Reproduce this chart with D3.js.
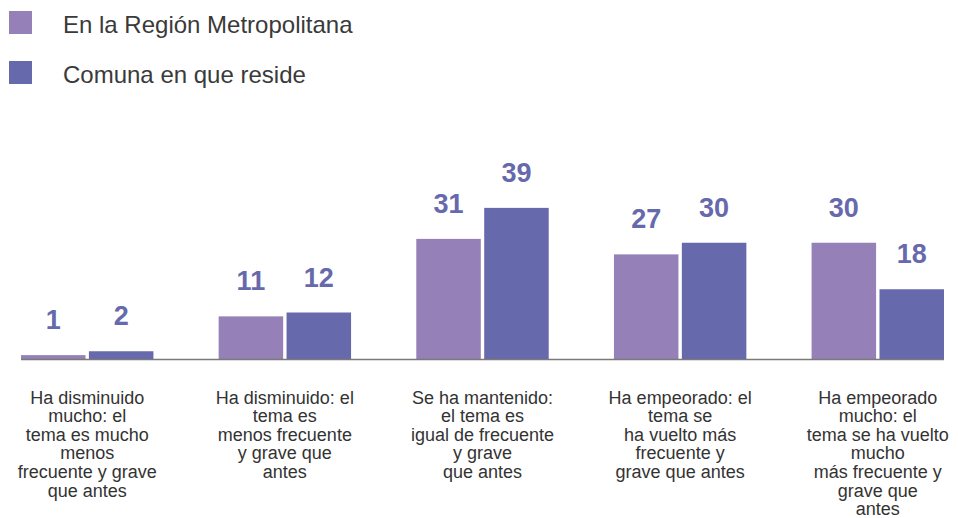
<!DOCTYPE html>
<html>
<head>
<meta charset="utf-8">
<script src="https://cdn.jsdelivr.net/npm/d3@7"></script>
<style>
  body { margin: 0; background: #fff; }
  text { font-family: "Liberation Sans", Arial, Helvetica, sans-serif; }
</style>
</head>
<body>
<div class="chart"></div>
<script>
var categories = ['c1', 'c2', 'c3', 'c4', 'c5'];
var categoryLabels = [
  ['Ha disminuido', 'mucho: el', 'tema es mucho', 'menos', 'frecuente y grave', 'que antes'],
  ['Ha disminuido: el', 'tema es', 'menos frecuente', 'y grave que', 'antes'],
  ['Se ha mantenido:', 'el tema es', 'igual de frecuente', 'y grave', 'que antes'],
  ['Ha empeorado: el', 'tema se', 'ha vuelto más', 'frecuente y', 'grave que antes'],
  ['Ha empeorado', 'mucho: el', 'tema se ha vuelto', 'mucho', 'más frecuente y', 'grave que', 'antes']
];
var seriesNames = ['En la Región Metropolitana', 'Comuna en que reside'];
var regionValues = [1, 11, 31, 27, 30];
var comunaValues = [2, 12, 39, 30, 18];
var colors = ['#9581b8', '#6669ac'];

var width = 958, height = 518;
var baseline = 359;

var svg = d3.select('.chart')
  .append('svg')
  .attr('width', width)
  .attr('height', height);

var x0 = d3.scaleBand()
  .domain(categories)
  .range([21, 944])
  .paddingInner(0.33);

var x1 = d3.scaleBand()
  .domain([0, 1])
  .range([0, x0.bandwidth()])
  .paddingInner(0.05);

var y = d3.scaleLinear()
  .domain([0, 40])
  .range([baseline, baseline - 155]);

// legend
var legend = svg.append('g');
seriesNames.forEach(function (name, i) {
  var g = legend.append('g').attr('transform', 'translate(9,' + (11 + i * 50) + ')');
  g.append('rect').attr('width', 23).attr('height', 23).attr('fill', colors[i]);
  g.append('text')
    .attr('x', 54).attr('y', 22)
    .attr('font-size', 24)
    .attr('fill', '#3a3a3a')
    .text(name);
});

var rows = categories.map(function (c, i) {
  return { cat: c, values: [regionValues[i], comunaValues[i]], label: categoryLabels[i] };
});

var groups = svg.selectAll('.group')
  .data(rows)
  .enter().append('g')
  .attr('class', 'group')
  .attr('transform', d => 'translate(' + x0(d.cat) + ',0)');

groups.selectAll('rect')
  .data(d => d.values.map((v, i) => ({ i: i, v: v })))
  .enter().append('rect')
  .attr('x', d => x1(d.i))
  .attr('width', x1.bandwidth())
  .attr('y', d => y(d.v))
  .attr('height', d => baseline - y(d.v))
  .attr('fill', d => colors[d.i]);

groups.selectAll('.val')
  .data(d => d.values.map((v, i) => ({ i: i, v: v })))
  .enter().append('text')
  .attr('class', 'val')
  .attr('x', d => x1(d.i) + x1.bandwidth() / 2)
  .attr('y', d => y(d.v) - 26)
  .attr('text-anchor', 'middle')
  .attr('font-size', 27)
  .attr('font-weight', 'bold')
  .attr('fill', '#6669ac')
  .text(d => d.v);

// axis line
svg.append('line')
  .attr('x1', 21).attr('x2', 944)
  .attr('y1', baseline + 0.5).attr('y2', baseline + 0.5)
  .attr('stroke', '#7a7a7a')
  .attr('stroke-width', 1.5);

// category labels
groups.append('text')
  .attr('text-anchor', 'middle')
  .attr('font-size', 18)
  .attr('fill', '#333')
  .selectAll('tspan')
  .data(d => d.label)
  .enter().append('tspan')
  .attr('x', x0.bandwidth() / 2)
  .attr('y', (d, i) => 403.5 + i * 18.6)
  .text(d => d);
</script>
</body>
</html>
